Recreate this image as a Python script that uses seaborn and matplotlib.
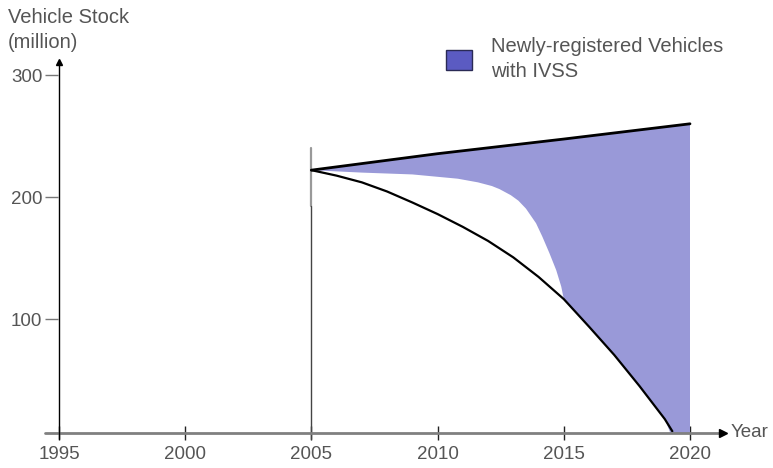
import numpy as np
import pandas as pd
import matplotlib
matplotlib.use("Agg")
import matplotlib.pyplot as plt
from matplotlib.patches import Patch
import seaborn as sns

# ---------------- data ----------------
upper_years = [2005, 2010, 2015, 2020]
upper_stock = [222, 235.5, 247.5, 260]

lower_years = [2005, 2006, 2007, 2008, 2009, 2010, 2011, 2012, 2013, 2014,
               2015, 2016, 2017, 2018, 2019, 2019.3]
lower_stock = [222, 217.5, 212, 204.5, 195.5, 186, 175.5, 164, 150.5, 134.5,
               116.3, 93.7, 70.5, 45, 18, 8]

ivss_edge_years = [2005, 2007, 2009, 2010.8, 2011.6, 2012.15, 2012.45, 2012.9,
                   2013.2, 2013.5, 2013.9, 2014.15, 2014.43, 2014.7, 2014.9,
                   2015, 2016, 2017, 2018, 2019, 2019.35, 2020]
ivss_edge_stock = [222, 220, 218.5, 215, 212, 209, 206.5, 201.5,
                   197, 190.5, 178.5, 167.5, 154, 140, 126.5,
                   116.3, 93.7, 70.5, 45, 18, 0, 0]

x_ticks = [1995, 2000, 2005, 2010, 2015, 2020]
y_ticks = [100, 200, 300]
legend_label = "Newly-registered Vehicles\nwith IVSS"
y_title = "Vehicle Stock\n(million)"
x_title = "Year"

# ---------------- style ----------------
sns.set_style("white")
plt.rcParams["font.family"] = ["Liberation Sans", "DejaVu Sans"]
TXT = "#555555"
FILL = "#9999d8"
FS_TICK = 13.5
FS = 14.5

W, H = 773, 468
fig = plt.figure(figsize=(W / 100, H / 100), dpi=100)
ax_l, ax_r, ax_b, ax_t = 45, 723, 433, 62
ax = fig.add_axes([ax_l / W, (H - ax_b) / H, (ax_r - ax_l) / W, (ax_b - ax_t) / H])

# data <-> pixel calibration
px_per_year = 25.24
x0 = 1995 - (59 - ax_l) / px_per_year
x1 = 1995 + (ax_r - 59) / px_per_year
px_per_unit = 1.22
y0 = (441 - ax_b) / px_per_unit
y1 = (441 - ax_t) / px_per_unit
ax.set_xlim(x0, x1)
ax.set_ylim(y0, y1)

# filled region (polygon between upper line and IVSS edge)
poly_x = np.concatenate([upper_years, ivss_edge_years[::-1]])
poly_y = np.concatenate([upper_stock, ivss_edge_stock[::-1]])
ax.fill(poly_x, poly_y, color=FILL, lw=0, zorder=1)

# lines
sns.lineplot(x=upper_years, y=upper_stock, color="black", lw=2.0, ax=ax,
             zorder=3, sort=False)
sns.lineplot(x=lower_years, y=lower_stock, color="black", lw=1.6, ax=ax,
             zorder=3, sort=False)

# vertical marker at 2005
ax.plot([2005, 2005], [240, 193], color="#999999", lw=1.6, zorder=2, clip_on=False)
ax.plot([2005, 2005], [193, y0 - 5], color="#444444", lw=1.0, zorder=2, clip_on=False)

# axes: spines off, custom axis lines with arrowheads
for s in ax.spines.values():
    s.set_visible(False)
ax.axhline(y0, color="#808080", lw=2, zorder=4, clip_on=False)
ax.plot(1, 0, ">", color="black", ms=6, transform=ax.transAxes, clip_on=False, zorder=5)
ax.plot([1995, 1995], [-0.015, 1], color="black", lw=1,
        transform=ax.get_xaxis_transform(), clip_on=False, zorder=5)
ax.plot(1995, 1, "^", color="black", ms=5, transform=ax.get_xaxis_transform(),
        clip_on=False, zorder=5)

# ticks
ax.set_xticks(x_ticks)
ax.set_xticklabels([str(t) for t in x_ticks])
ax.set_yticks(y_ticks)
ax.set_yticklabels([str(t) for t in y_ticks])
ax.tick_params(axis="x", direction="inout", length=9.4, width=1, color="#222222",
               labelsize=FS_TICK, labelcolor=TXT, pad=5, bottom=True)
ax.tick_params(axis="y", direction="in", length=9, width=1, color="#777777",
               labelsize=FS_TICK, labelcolor=TXT, pad=2, left=True)
ax.set_xlabel("")
ax.set_ylabel("")
ax.grid(False)

# texts
fig.text(8 / W, 1 - 8 / H, y_title, ha="left", va="top", fontsize=FS,
         color=TXT, linespacing=1.38)
fig.text(731 / W, (H - 437) / H, x_title, ha="left", va="baseline",
         fontsize=13.5, color=TXT)

# legend
handle = Patch(facecolor="#5b5bc2", edgecolor="#2a2a55", lw=1)
leg = fig.legend([handle], [legend_label], loc="upper left",
                 bbox_to_anchor=(446 / W, 1 - 37 / H), bbox_transform=fig.transFigure,
                 frameon=False, borderpad=0, borderaxespad=0, handlelength=1.3,
                 handleheight=1.15, handletextpad=0.95, fontsize=FS, labelcolor=TXT)
for t in leg.get_texts():
    t.set_linespacing(1.38)

fig.savefig("out.png", dpi=100)
